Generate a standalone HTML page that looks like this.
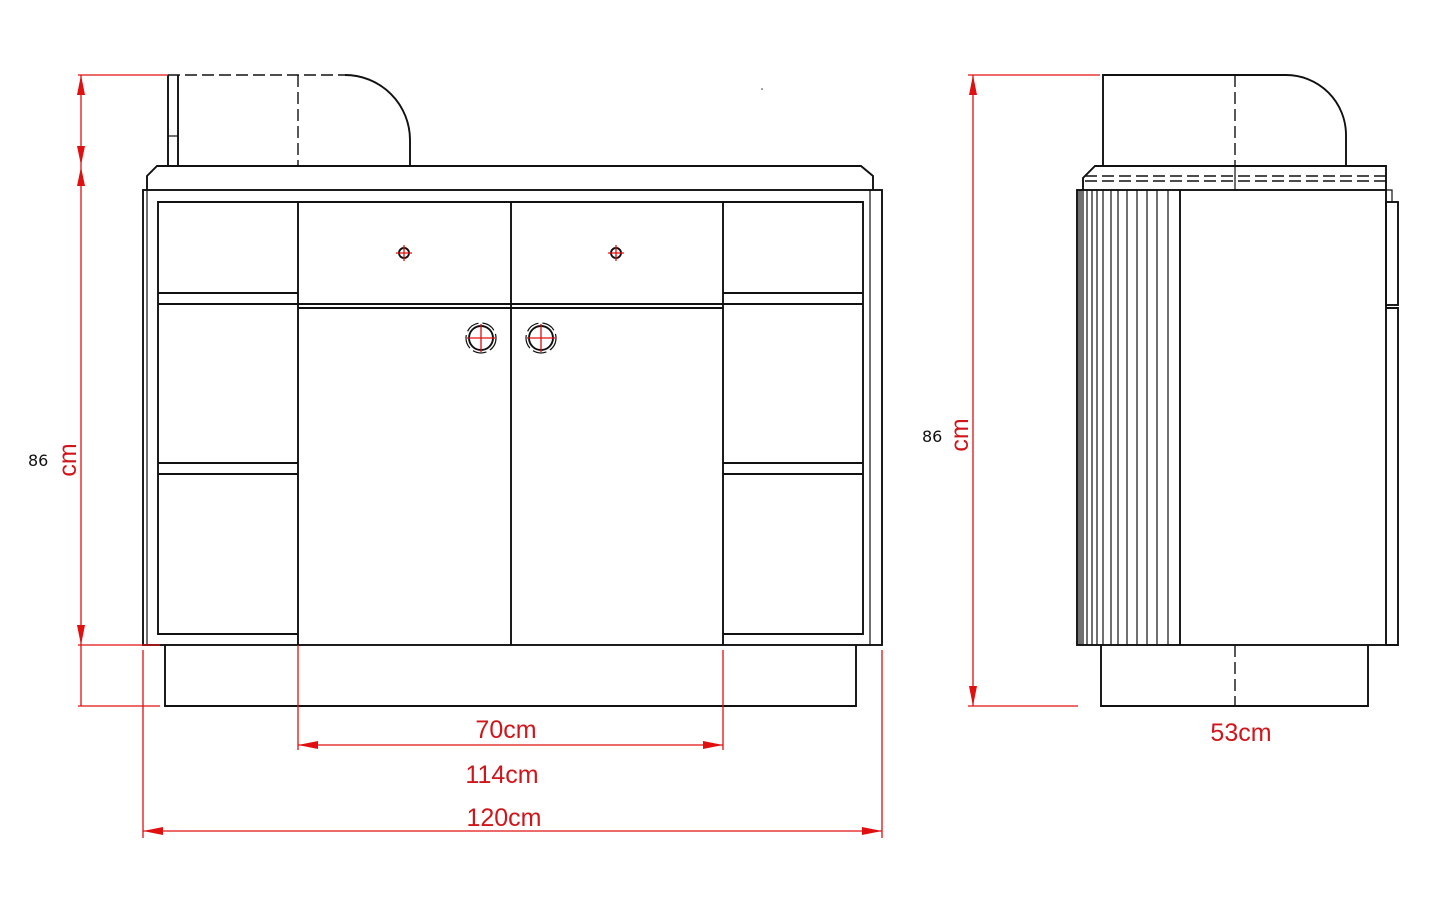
<!DOCTYPE html>
<html><head><meta charset="utf-8"><style>
html,body{margin:0;padding:0;background:#fff}
svg{display:block}
.k{stroke:#111;stroke-width:1.9;fill:none}
.t{stroke:#111;stroke-width:1.2;fill:none}
.d{stroke:#111;stroke-width:1.4;fill:none;stroke-dasharray:12,5}
.r{stroke:#e01010;stroke-width:1.3;fill:none}
.rf{fill:#e01010}
.lab{font-family:"Liberation Sans",sans-serif;fill:#d0151b;font-size:25px}
.blk{font-family:"DejaVu Sans","Liberation Sans",sans-serif;fill:#111;font-size:16px}
</style></head><body>
<svg width="1444" height="898" viewBox="0 0 1444 898" xmlns="http://www.w3.org/2000/svg">
<!-- FRONT VIEW -->
<path class="k" d="M168 166 V75 M178 166 V75"/>
<path class="d" d="M168 75 H345"/>
<path class="k" d="M345 75 A65 65 0 0 1 410 140 V166"/>
<path class="d" d="M298 75 V166"/>
<path class="t" d="M168 136 H178"/>
<path class="k" d="M147 190 V176 L157 166 H861 L873 176 V190"/>
<rect class="k" x="143" y="190" width="739" height="455"/>
<path class="t" d="M147 190 V645 M870 190 V645"/>
<path class="k" d="M298 634 H158 V202 H863 V634 H723"/>
<path class="k" d="M298 202 V645 M723 202 V645 M511 202 V645"/>
<path class="k" d="M158 293 H298 M158 304 H298 M158 463 H298 M158 474 H298"/>
<path class="k" d="M723 293 H863 M723 304 H863 M723 463 H863 M723 474 H863"/>
<path class="k" d="M298 304 H723 M298 308 H723"/>
<g>
<circle class="k" cx="404" cy="253" r="5"/>
<circle class="k" cx="616" cy="253" r="5"/>
<path class="r" d="M396 253 H412 M404 245 V261 M608 253 H624 M616 245 V261"/>
<circle class="k" cx="481" cy="338" r="12"/>
<circle class="t" cx="481" cy="338" r="15" stroke-dasharray="14,4"/>
<circle class="k" cx="541" cy="338" r="12"/>
<circle class="t" cx="541" cy="338" r="15" stroke-dasharray="14,4"/>
<path class="r" d="M467 338 H495 M481 324 V352 M527 338 H555 M541 324 V352"/>
</g>
<path class="k" d="M165 645 V706 H856 V645"/>
<path class="r" d="M78 75 H168 M78 645 H160 M78 706 H160 M81 75 V706"/>
<polygon class="rf" points="81,75 77,95 85,95"/>
<polygon class="rf" points="81,165 77,146 85,146"/>
<polygon class="rf" points="81,167 77,186 85,186"/>
<polygon class="rf" points="81,645 77,625 85,625"/>
<path class="r" d="M298 645 V750 M723 650 V750 M298 745 H723"/>
<polygon class="rf" points="298,745 318,741 318,749"/>
<polygon class="rf" points="723,745 703,741 703,749"/>
<path class="r" d="M143 650 V838 M882 650 V838 M143 831 H882"/>
<polygon class="rf" points="143,831 163,827 163,835"/>
<polygon class="rf" points="882,831 862,827 862,835"/>
<text class="lab" x="506" y="738" text-anchor="middle">70cm</text>
<text class="lab" x="502" y="783" text-anchor="middle">114cm</text>
<text class="lab" x="504" y="826" text-anchor="middle">120cm</text>
<text class="blk" x="28" y="466">86</text>
<text class="lab" transform="translate(76 460) rotate(-90)" text-anchor="middle">cm</text>

<!-- SIDE VIEW -->
<path class="k" d="M1103 166 V75 H1286 A60 60 0 0 1 1346 135 V166"/>
<path class="d" d="M1235 75 V166"/>
<path class="t" d="M1235 166 V190"/>
<path class="k" d="M1083 190 V178 L1095 166 H1386 V190"/>
<path class="d" d="M1085 176 H1386 M1085 181 H1386"/>
<rect class="k" x="1077" y="190" width="309" height="455"/>
<path class="t" d="M1079 190V645 M1081 190V645 M1083 190V645 M1087 190V645 M1092 190V645 M1097 190V645 M1103 190V645 M1111 190V645 M1118 190V645 M1127 190V645 M1137 190V645 M1147 190V645 M1157 190V645 M1168 190V645"/>
<path class="k" d="M1180 190 V645"/>
<path class="t" d="M1386 190 H1392 V202"/>
<rect class="k" x="1386" y="202" width="12" height="103"/>
<path class="k" d="M1386 308 H1398 V645 H1386"/>
<path class="k" d="M1101 645 V706 H1368 V645"/>
<path class="d" d="M1235 645 V706"/>
<path class="r" d="M968 75 H1100 M968 706 H1078 M973 75 V706"/>
<polygon class="rf" points="973,75 969,95 977,95"/>
<polygon class="rf" points="973,706 969,686 977,686"/>
<text class="lab" x="1241" y="741" text-anchor="middle">53cm</text>
<text class="blk" x="922" y="442">86</text>
<text class="lab" transform="translate(968 435) rotate(-90)" text-anchor="middle">cm</text>
<circle cx="762" cy="89" r="0.8" fill="#333"/>
</svg>
</body></html>
